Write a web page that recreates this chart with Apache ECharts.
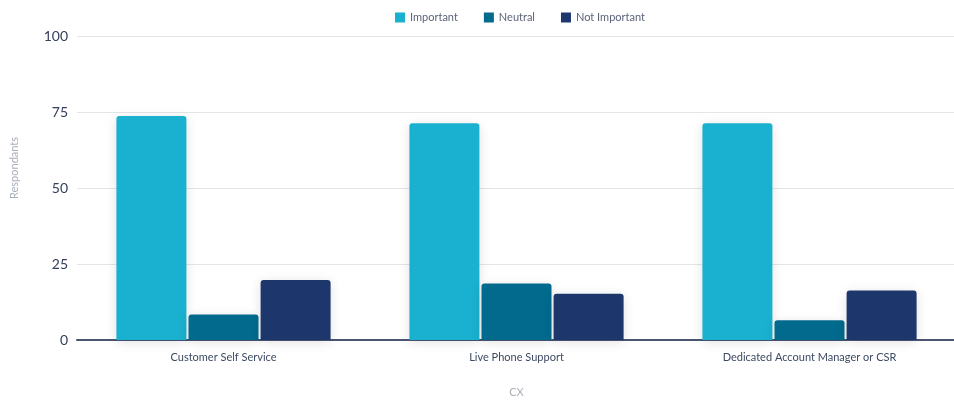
<!DOCTYPE html>
<html>
<head>
<meta charset="utf-8">
<script src="https://cdn.jsdelivr.net/npm/echarts@6/dist/echarts.min.js"></script>
<style>
  html, body { margin: 0; padding: 0; background: #fff; }
  #chart { width: 954px; height: 401px; }
</style>
</head>
<body>
<div id="chart"></div>
<script>
// Channel categories on the x axis
const categories = ['Customer Self Service', 'Live Phone Support', 'Dedicated Account Manager or CSR'];
// Respondent counts per rating
const important = [73.7, 71.3, 71.3];
const neutral = [8.4, 18.6, 6.5];
const notImportant = [19.7, 15.2, 16.3];
const yTicks = [0, 25, 50, 75, 100];

const FONT = 'Lato, "Open Sans", sans-serif';
const barShadow = { shadowBlur: 12, shadowColor: 'rgba(0,0,0,0.12)', shadowOffsetY: 2 };

const chart = echarts.init(document.getElementById('chart'));
chart.setOption({
  animation: false,
  textStyle: { fontFamily: FONT },
  legend: {
    top: 7,
    left: 390,
    itemWidth: 10,
    itemHeight: 10,
    itemGap: 26,
    icon: 'rect',
    textStyle: { fontSize: 11, color: '#5b6478', fontFamily: FONT },
    data: ['Important', 'Neutral', 'Not Important']
  },
  grid: { left: 77, right: -2, top: 36, bottom: 61, outerBoundsMode: 'none' },
  xAxis: {
    type: 'category',
    data: categories,
    name: 'CX',
    nameLocation: 'middle',
    nameGap: 47,
    nameTextStyle: { fontSize: 11, color: '#a9afb9', fontFamily: FONT },
    axisLine: { lineStyle: { color: '#4b5672', width: 2 } },
    axisTick: { show: false },
    axisLabel: { fontSize: 11, color: '#3d4a63', margin: 12, fontFamily: FONT }
  },
  yAxis: {
    type: 'value',
    min: yTicks[0],
    max: yTicks[yTicks.length - 1],
    interval: 25,
    name: 'Respondants',
    nameLocation: 'middle',
    nameGap: 57,
    nameTextStyle: { fontSize: 11, color: '#a9afb9', fontFamily: FONT, padding: [0, 0, 0, 40] },
    axisLine: { show: false },
    axisTick: { show: false },
    axisLabel: { fontSize: 14, color: '#34405a', margin: 9, fontFamily: FONT },
    splitLine: { lineStyle: { color: '#e3e6e8', width: 1 } }
  },
  series: [
    { name: 'Important', type: 'bar', data: important, barWidth: 70, barGap: '3%',
      itemStyle: Object.assign({ color: '#19b1cf', borderRadius: [3, 3, 0, 0] }, barShadow) },
    { name: 'Neutral', type: 'bar', data: neutral, barWidth: 70, barGap: '3%',
      itemStyle: Object.assign({ color: '#026a8d', borderRadius: [3, 3, 0, 0] }, barShadow) },
    { name: 'Not Important', type: 'bar', data: notImportant, barWidth: 70, barGap: '3%',
      itemStyle: Object.assign({ color: '#1d366c', borderRadius: [3, 3, 0, 0] }, barShadow) }
  ]
});
</script>
</body>
</html>
